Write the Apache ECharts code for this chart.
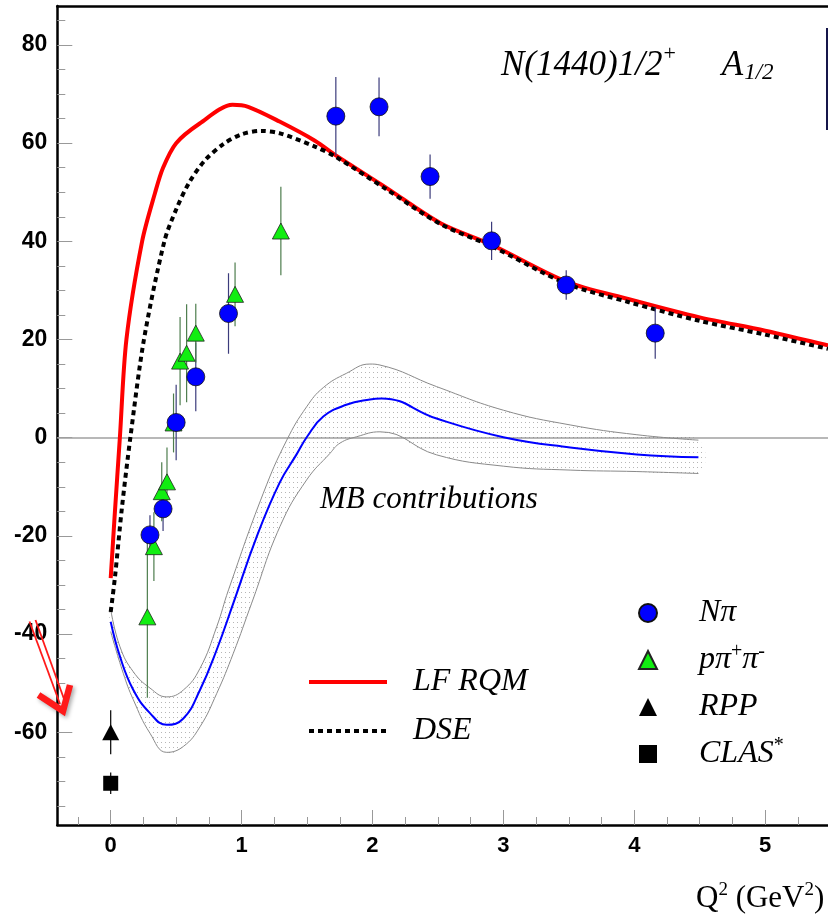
<!DOCTYPE html>
<html><head><meta charset="utf-8">
<script src="https://cdn.jsdelivr.net/npm/echarts@6/dist/echarts.min.js"></script>
<style>html,body{margin:0;padding:0;background:#fff}#c{width:828px;height:916px}</style>
</head><body><div id="c"></div>
<script>
// ---------- data ----------
const lfX = [0, 0.03, 0.07, 0.12, 0.24, 0.34, 0.40, 0.50, 0.68, 0.93, 1.05, 1.29, 1.56, 1.72, 2.095, 2.52, 2.91, 3.48, 3.96, 4.5, 5.0, 5.48];
const lfY = [-28.6, -16, 0, 20, 40, 50, 55, 60, 64, 67.8, 67.4, 64.4, 60.5, 57.5, 51.1, 43.7, 39.3, 31.8, 28.2, 24.5, 21.8, 18.8];

const dseX = [0, 0.033, 0.084, 0.15, 0.254, 0.41, 0.50, 0.60, 0.72, 0.86, 1.0, 1.15, 1.293, 1.56, 1.72, 2.095, 2.52, 2.91, 3.48, 3.96, 4.5, 5.0, 5.48];
const dseY = [-35.5, -28.3, -14.7, 0, 20, 40, 46.5, 52, 56.5, 59.8, 61.8, 62.5, 62.0, 59.3, 57.2, 50.8, 43.5, 39.0, 31.4, 27.6, 23.8, 21.0, 18.1];

const mbX = [0, 0.071, 0.173, 0.30, 0.428, 0.555, 0.682, 0.81, 0.937, 1.115, 1.29, 1.42, 1.50, 1.624, 1.80, 1.98, 2.07, 2.49, 3.0, 3.51, 4.02, 4.49];
const mbY = [-37.5, -44.6, -51.4, -56.1, -58.5, -57.2, -51.4, -43.2, -33.7, -20.2, -9.2, -3.4, 0.2, 4.3, 6.7, 7.8, 8.0, 3.9, 0.1, -2.0, -3.4, -4.0];
const mbUpX = [0, 0.071, 0.173, 0.30, 0.428, 0.555, 0.682, 0.81, 0.90, 1.166, 1.345, 1.497, 1.624, 1.80, 1.98, 2.057, 2.49, 3.0, 3.51, 4.02, 4.49];
const mbUpY = [-35, -42.6, -47.7, -51.0, -52.8, -51.4, -47.0, -38.5, -31.0, -11.3, -0.5, 6.3, 10.2, 13.1, 15.0, 14.8, 10.4, 5.6, 2.6, 0.6, -0.5];
const mbLoX = [0, 0.096, 0.173, 0.30, 0.428, 0.555, 0.682, 0.81, 0.937, 1.077, 1.293, 1.497, 1.675, 1.752, 1.88, 2.057, 2.49, 3.0, 3.51, 4.02, 4.49];
const mbLoY = [-39.5, -48.0, -53.4, -60.2, -64.1, -62.9, -58.9, -52.1, -43.9, -33.7, -18.1, -8.6, -3.2, -1.1, 0.2, 1.2, -3.5, -5.8, -6.6, -6.9, -7.3];

const npiX = [0.30, 0.40, 0.50, 0.65, 0.90, 1.72, 2.05, 2.44, 2.91, 3.48, 4.16];
const npiY = [-19.8, -14.5, 3.1, 12.4, 25.3, 65.5, 67.4, 53.2, 40.1, 31.1, 21.3];
const npiErr = [4.0, 4.5, 7.7, 7.0, 8.2, 8.0, 6.0, 4.5, 3.9, 3.0, 5.2];

const pppX = [0.28, 0.33, 0.39, 0.43, 0.48, 0.53, 0.58, 0.65, 0.95, 1.30];
const pppY = [-36.5, -22.2, -11, -9, 3, 15.6, 17.2, 21.3, 29.2, 42.1];
const pppErr = [16.5, 7, 6, 7, 6, 9, 10, 6, 6.5, 9];

const rppX = [0];   const rppY = [-60.0];  const rppErr = [4.5];
const clasX = [0];  const clasY = [-70.4]; const clasErr = [2.2];

const xMajor = [0, 1, 2, 3, 4, 5];
const xMinor = [-0.25, 0.25, 0.5, 0.75, 1.25, 1.5, 1.75, 2.25, 2.5, 2.75, 3.25, 3.5, 3.75, 4.25, 4.5, 4.75, 5.25];
const yMajor = [-60, -40, -20, 0, 20, 40, 60, 80];
const yMinor = [-75, -70, -65, -55, -50, -45, -35, -30, -25, -15, -10, -5, 5, 10, 15, 25, 30, 35, 45, 50, 55, 65, 70, 75, 85];

const names = {lf: 'LF RQM', dse: 'DSE', npi: 'Nπ', ppp: 'pπ+π-', rpp: 'RPP', clas: 'CLAS*'};

// ---------- helpers ----------
const X_MIN = -0.408, X_MAX = 5.48, Y_MIN = -78.9, Y_MAX = 87.94;
const zip = (xs, ys) => xs.map((x, i) => [x, ys[i]]);
const zipErr = (xs, ys, es) => xs.map((x, i) => [x, ys[i], es[i]]);

const pc = document.createElement('canvas');
pc.width = 4; pc.height = 5;
const g = pc.getContext('2d');
g.fillStyle = 'rgba(110,110,110,0.5)';
g.fillRect(1, 2, 1, 1);

function errSeries(name, data, color) {
  return {
    type: 'custom', name: name + ' err', z: 6, silent: true,
    data: data, encode: {x: 0, y: 1},
    renderItem: function (params, api) {
      const x = api.value(0), y = api.value(1), e = api.value(2);
      const p1 = api.coord([x, y + e]), p2 = api.coord([x, y - e]);
      return {type: 'line', shape: {x1: p1[0], y1: p1[1], x2: p2[0], y2: p2[1]},
              style: {stroke: color, lineWidth: 1.2}};
    }
  };
}

const serifIt = {fontFamily: 'Liberation Serif', fontStyle: 'italic', fontWeight: 'normal', color: '#000'};
const serif = {fontFamily: 'Liberation Serif', fontStyle: 'normal', fontWeight: 'normal', color: '#000'};
const tickFont = {fontFamily: 'Liberation Sans', fontWeight: 'bold', fontSize: 22, color: '#000'};

const chart = echarts.init(document.getElementById('c'), null, {renderer: 'canvas'});
chart.setOption({
  animation: false,
  backgroundColor: '#fff',
  grid: {left: 57.3, right: 0, top: 6, bottom: 91, containLabel: false, outerBoundsMode: 'none'},
  title: [
    {
      text: '{m|N(1440)1/2}{sup|+}{sp|}{m|A}{sub|1/2}',
      left: 501, top: 46, padding: 0,
      textStyle: {
        rich: {
          m: Object.assign({fontSize: 35, lineHeight: 40}, serifIt),
          sup: Object.assign({fontSize: 22, lineHeight: 22, padding: [0, 0, 23, 1]}, serif),
          sp: {width: 46},
          sub: Object.assign({fontSize: 23, lineHeight: 23, padding: [14, 0, 0, 1]}, serifIt)
        }
      }
    },
    {
      text: 'MB contributions', left: 320, top: 482, padding: 0,
      textStyle: Object.assign({fontSize: 31, lineHeight: 36}, serifIt)
    }
  ],
  legend: [
    {
      data: [names.lf, names.dse], orient: 'vertical', left: 307, top: 664,
      itemWidth: 78, itemHeight: 20, itemGap: 13, padding: 0, selectedMode: false,
      itemStyle: {opacity: 0},
      lineStyle: {width: 4},
      textStyle: Object.assign({fontSize: 32, lineHeight: 36, padding: [0, 0, 0, 21]}, serifIt)
    },
    {
      data: [names.npi, names.ppp, names.rpp, names.clas], orient: 'vertical', left: 638, top: 597,
      itemWidth: 18, itemHeight: 18, itemGap: 13, padding: 0, selectedMode: false,
      formatter: function (n) {
        if (n === names.ppp) return '{t|pπ}{s|+}{t|π}{s|-}';
        if (n === names.clas) return '{t|CLAS}{s|*}';
        return '{t|' + n + '}';
      },
      textStyle: {
        padding: [0, 0, 0, 37],
        rich: {
          t: Object.assign({fontSize: 32, lineHeight: 36}, serifIt),
          s: Object.assign({fontSize: 20, lineHeight: 20, padding: [0, 0, 16, 0]}, serif)
        }
      }
    }
  ],
  xAxis: [
    {
      type: 'value', min: X_MIN, max: X_MAX, position: 'bottom',
      axisLine: {show: true, onZero: false, lineStyle: {color: '#000', width: 2.5}},
      axisTick: {show: true, inside: true, length: 15, customValues: xMajor, lineStyle: {color: '#999', width: 1}},
      axisLabel: {show: true, customValues: xMajor, margin: 10, ...tickFont},
      splitLine: {show: false},
      name: '{n|Q}{s|2}{n| (GeV}{s|2}{n|)}', nameLocation: 'end', nameGap: -132,
      nameTextStyle: {
        align: 'left', verticalAlign: 'top', padding: [56, 0, 0, 0],
        rich: {
          n: Object.assign({fontSize: 31, lineHeight: 36}, serif),
          s: Object.assign({fontSize: 19, lineHeight: 19, padding: [0, 0, 18, 0]}, serif)
        }
      }
    },
    {
      type: 'value', min: X_MIN, max: X_MAX, position: 'bottom',
      axisLine: {show: false, onZero: false},
      axisTick: {show: true, inside: true, length: 8, customValues: xMinor, lineStyle: {color: '#999', width: 1}},
      axisLabel: {show: false}, splitLine: {show: false}
    },
    {
      type: 'value', min: X_MIN, max: X_MAX, position: 'top',
      axisLine: {show: true, onZero: false, lineStyle: {color: '#000', width: 2.5}},
      axisTick: {show: false}, axisLabel: {show: false}, splitLine: {show: false}
    }
  ],
  yAxis: [
    {
      type: 'value', min: Y_MIN, max: Y_MAX, position: 'left',
      axisLine: {show: true, onZero: false, lineStyle: {color: '#000', width: 2.5}},
      axisTick: {show: true, inside: true, length: 15, customValues: yMajor, lineStyle: {color: '#999', width: 1}},
      axisLabel: {show: true, customValues: yMajor, margin: 10, ...tickFont, fontSize: 23},
      splitLine: {show: false}
    },
    {
      type: 'value', min: Y_MIN, max: Y_MAX, position: 'left',
      axisLine: {show: false, onZero: false},
      axisTick: {show: true, inside: true, length: 8, customValues: yMinor, lineStyle: {color: '#999', width: 1}},
      axisLabel: {show: false}, splitLine: {show: false}
    }
  ],
  series: [
    {
      type: 'custom', name: 'MB band', z: 1, silent: true, data: [[0, 0]], encode: {x: 0, y: 1},
      renderItem: function (params, api) {
        const up = mbUpX.map((x, i) => api.coord([x, mbUpY[i]]));
        const lo = mbLoX.map((x, i) => api.coord([x, mbLoY[i]])).reverse();
        return {type: 'polygon', shape: {points: up.concat(lo), smooth: 0.45},
                style: {fill: {image: pc, repeat: 'repeat'}}};
      }
    },
    {type: 'line', name: 'MB upper', data: zip(mbUpX, mbUpY), symbol: 'none', smooth: 0.45, z: 2, silent: true,
     lineStyle: {color: '#8a8a8a', width: 1}},
    {type: 'line', name: 'MB lower', data: zip(mbLoX, mbLoY), symbol: 'none', smooth: 0.45, z: 2, silent: true,
     lineStyle: {color: '#8a8a8a', width: 1}},
    {type: 'line', name: 'MB contributions', data: zip(mbX, mbY), symbol: 'none', smooth: 0.45, z: 3, silent: true,
     lineStyle: {color: '#0000ff', width: 2},
     markLine: {silent: true, symbol: 'none', label: {show: false}, z: 1,
       lineStyle: {color: '#a0a0a0', width: 1.5, type: 'solid'}, data: [{yAxis: 0}]}},
    {type: 'line', name: names.lf, data: zip(lfX, lfY), symbol: 'none', smooth: 0.3, z: 4,
     itemStyle: {color: '#ff0000'}, lineStyle: {color: '#ff0000', width: 4}},
    {type: 'line', name: names.dse, data: zip(dseX, dseY), symbol: 'none', smooth: 0.3, z: 5,
     itemStyle: {color: '#000'}, lineStyle: {color: '#000', width: 4, type: [5, 4]}},
    errSeries(names.npi, zipErr(npiX, npiY, npiErr), '#3c3c7c'),
    errSeries(names.ppp, zipErr(pppX, pppY, pppErr), '#4d7d4d'),
    errSeries(names.rpp, zipErr(rppX, rppY, rppErr), '#000'),
    errSeries(names.clas, zipErr(clasX, clasY, clasErr), '#000'),
    {type: 'scatter', name: names.ppp, data: zip(pppX, pppY), symbol: 'triangle', symbolSize: [17, 16], z: 7,
     itemStyle: {color: '#11ee11', borderColor: '#222', borderWidth: 0.8, opacity: 1}},
    {type: 'scatter', name: names.npi, data: zip(npiX, npiY), symbol: 'circle', symbolSize: 18, z: 8,
     itemStyle: {color: '#0000ff', borderColor: '#111', borderWidth: 0.8, opacity: 1}},
    {type: 'scatter', name: names.rpp, data: zip(rppX, rppY), symbol: 'triangle', symbolSize: [17, 16], z: 7,
     itemStyle: {color: '#000', opacity: 1}},
    {type: 'scatter', name: names.clas, data: zip(clasX, clasY), symbol: 'rect', symbolSize: 15, z: 7,
     itemStyle: {color: '#000', opacity: 1}}
  ],
  graphic: [
    {type: 'line', shape: {x1: 827, y1: 28, x2: 827, y2: 130}, style: {stroke: '#15154a', lineWidth: 2}, z: 100},
    {type: 'line', shape: {x1: 29.5, y1: 621.5, x2: 60, y2: 704}, style: {stroke: '#ff1a1a', lineWidth: 1.8}, z: 100},
    {type: 'line', shape: {x1: 35.5, y1: 620, x2: 64, y2: 699}, style: {stroke: '#ff1a1a', lineWidth: 1.8}, z: 100},
    {type: 'polyline', shape: {points: [[38.5, 695], [63, 711], [70, 685]]},
     style: {stroke: '#ff1a1a', lineWidth: 6.5, lineJoin: 'miter', shadowBlur: 4, shadowColor: 'rgba(0,0,0,0.35)', shadowOffsetX: 2, shadowOffsetY: 2}, z: 100}
  ]
});
</script></body></html>
